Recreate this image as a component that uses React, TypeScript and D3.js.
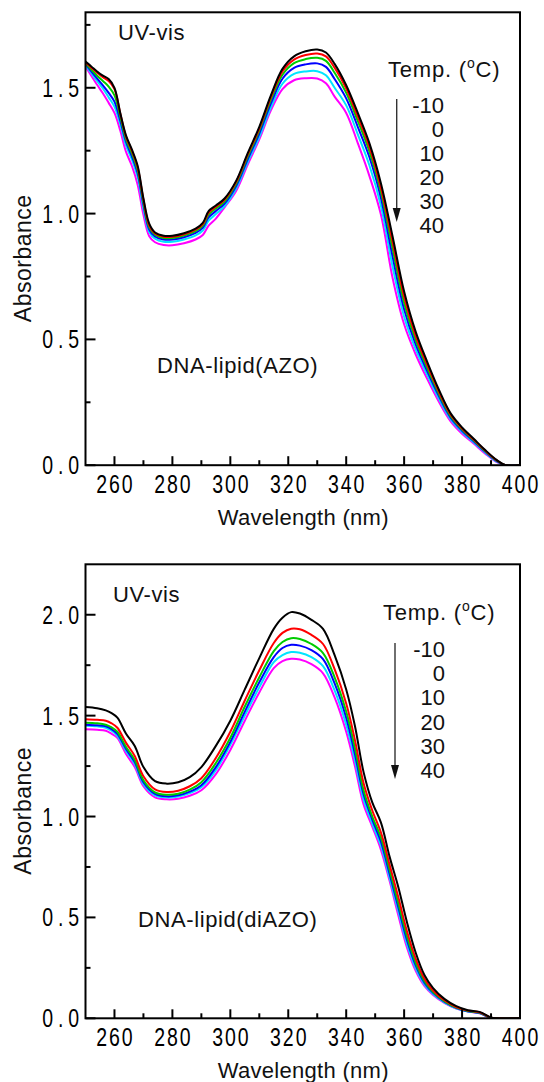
import React, { useMemo } from "react";
import * as d3 from "d3";

// Temperatures (legend order, top to bottom) and their line colours
const temps = ["-10", "0", "10", "20", "30", "40"];
const tempColors = ["#000000", "#ff0000", "#00cc00", "#0000ff", "#00e5ff", "#ff00ff"];

const xMajorTicks = [260, 280, 300, 320, 340, 360, 380, 400];
const xMinorTicks = [270, 290, 310, 330, 350, 370, 390];

// Panel 1: DNA-lipid(AZO)
const azoWavelength = [250, 252, 254, 256, 258, 260, 262, 264, 266, 268, 270, 272, 274, 277, 280, 284, 288, 290.5, 292.5, 295, 298, 302, 306, 310, 314, 318, 322, 326, 330, 333, 336, 340, 344, 348, 352, 356, 360, 364, 368, 372, 376, 380, 384, 388, 392, 395, 400];
const azoM10 = [1.604, 1.585, 1.565, 1.548, 1.535, 1.5, 1.4, 1.31, 1.255, 1.19, 1.06, 0.96, 0.925, 0.912, 0.912, 0.922, 0.94, 0.963, 1.01, 1.032, 1.06, 1.13, 1.24, 1.345, 1.47, 1.575, 1.625, 1.645, 1.652, 1.64, 1.595, 1.51, 1.4, 1.28, 1.12, 0.91, 0.69, 0.53, 0.41, 0.3, 0.207, 0.15, 0.105, 0.06, 0.02, 0, 0];
const azo0 = [1.6, 1.58, 1.56, 1.542, 1.527, 1.495, 1.398, 1.305, 1.25, 1.183, 1.055, 0.952, 0.921, 0.908, 0.908, 0.918, 0.936, 0.958, 1.004, 1.027, 1.055, 1.125, 1.234, 1.338, 1.462, 1.565, 1.612, 1.63, 1.636, 1.625, 1.58, 1.497, 1.385, 1.265, 1.102, 0.888, 0.668, 0.513, 0.398, 0.292, 0.202, 0.146, 0.102, 0.058, 0.019, 0, 0];
const azo10 = [1.597, 1.572, 1.548, 1.527, 1.505, 1.47, 1.385, 1.295, 1.24, 1.172, 1.045, 0.945, 0.916, 0.903, 0.903, 0.913, 0.93, 0.952, 0.996, 1.02, 1.048, 1.118, 1.226, 1.33, 1.452, 1.552, 1.598, 1.614, 1.619, 1.607, 1.56, 1.48, 1.368, 1.247, 1.085, 0.862, 0.645, 0.497, 0.386, 0.284, 0.196, 0.142, 0.099, 0.056, 0.018, 0, 0];
const azo20 = [1.594, 1.565, 1.537, 1.51, 1.48, 1.445, 1.37, 1.285, 1.228, 1.16, 1.035, 0.937, 0.909, 0.897, 0.897, 0.906, 0.923, 0.944, 0.985, 1.01, 1.04, 1.11, 1.216, 1.318, 1.438, 1.536, 1.579, 1.593, 1.597, 1.583, 1.535, 1.458, 1.345, 1.225, 1.062, 0.83, 0.62, 0.48, 0.373, 0.275, 0.19, 0.137, 0.095, 0.053, 0.016, 0, 0];
const azo30 = [1.59, 1.558, 1.527, 1.497, 1.462, 1.425, 1.355, 1.27, 1.215, 1.145, 1.02, 0.927, 0.9, 0.888, 0.888, 0.897, 0.913, 0.933, 0.972, 0.998, 1.03, 1.1, 1.205, 1.305, 1.422, 1.516, 1.555, 1.565, 1.566, 1.55, 1.5, 1.43, 1.315, 1.192, 1.03, 0.79, 0.59, 0.46, 0.358, 0.264, 0.183, 0.132, 0.091, 0.05, 0.014, 0, 0];
const azo40 = [1.585, 1.548, 1.512, 1.478, 1.44, 1.4, 1.33, 1.245, 1.19, 1.115, 0.995, 0.91, 0.886, 0.875, 0.874, 0.882, 0.897, 0.915, 0.952, 0.98, 1.025, 1.09, 1.195, 1.295, 1.41, 1.495, 1.53, 1.538, 1.537, 1.518, 1.465, 1.4, 1.28, 1.15, 0.995, 0.745, 0.56, 0.44, 0.342, 0.252, 0.175, 0.125, 0.086, 0.046, 0.012, 0, 0];
const azoYMajor = [0, 0.5, 1.0, 1.5];
const azoYMinor = [0.25, 0.75, 1.25, 1.75];

// Panel 2: DNA-lipid(diAZO)
const diazoWavelength = [250, 254, 257, 259, 261, 264, 267, 270, 274, 278, 282, 286, 290, 295, 300, 305, 310, 315, 318, 321, 324, 328, 332, 336, 340, 343, 346, 349, 352, 355, 358, 361, 364, 367, 370, 374, 378, 382, 386, 390, 392, 400];
const diazoM10 = [1.543, 1.537, 1.526, 1.512, 1.49, 1.41, 1.35, 1.245, 1.175, 1.163, 1.17, 1.195, 1.245, 1.35, 1.475, 1.63, 1.785, 1.93, 1.985, 2.013, 2.006, 1.975, 1.93, 1.8, 1.63, 1.45, 1.22, 1.07, 0.97, 0.8, 0.65, 0.475, 0.325, 0.215, 0.15, 0.095, 0.06, 0.04, 0.032, 0.004, 0, 0];
const diazo0 = [1.482, 1.479, 1.475, 1.462, 1.44, 1.365, 1.3, 1.2, 1.135, 1.122, 1.128, 1.15, 1.19, 1.29, 1.42, 1.575, 1.725, 1.86, 1.91, 1.931, 1.928, 1.9, 1.855, 1.73, 1.56, 1.38, 1.165, 1.03, 0.92, 0.76, 0.6, 0.43, 0.295, 0.196, 0.138, 0.088, 0.056, 0.038, 0.03, 0.003, 0, 0];
const diazo10 = [1.465, 1.462, 1.455, 1.442, 1.42, 1.345, 1.28, 1.18, 1.12, 1.108, 1.113, 1.133, 1.17, 1.265, 1.39, 1.545, 1.69, 1.82, 1.865, 1.884, 1.88, 1.855, 1.81, 1.69, 1.52, 1.34, 1.13, 1.0, 0.895, 0.735, 0.57, 0.405, 0.275, 0.185, 0.13, 0.084, 0.053, 0.036, 0.028, 0.002, 0, 0];
const diazo20 = [1.455, 1.452, 1.447, 1.433, 1.41, 1.335, 1.27, 1.17, 1.112, 1.1, 1.105, 1.123, 1.155, 1.245, 1.37, 1.52, 1.665, 1.79, 1.835, 1.851, 1.847, 1.825, 1.78, 1.66, 1.49, 1.31, 1.11, 0.985, 0.875, 0.715, 0.55, 0.387, 0.262, 0.177, 0.126, 0.081, 0.052, 0.035, 0.027, 0.002, 0, 0];
const diazo30 = [1.45, 1.447, 1.44, 1.425, 1.4, 1.325, 1.26, 1.16, 1.105, 1.095, 1.099, 1.116, 1.145, 1.23, 1.355, 1.5, 1.64, 1.765, 1.8, 1.815, 1.812, 1.79, 1.745, 1.625, 1.455, 1.28, 1.085, 0.965, 0.855, 0.695, 0.53, 0.367, 0.247, 0.168, 0.12, 0.078, 0.05, 0.034, 0.026, 0.001, 0, 0];
const diazo40 = [1.432, 1.43, 1.425, 1.41, 1.39, 1.31, 1.245, 1.15, 1.095, 1.085, 1.088, 1.103, 1.13, 1.21, 1.33, 1.475, 1.615, 1.735, 1.77, 1.782, 1.778, 1.755, 1.71, 1.59, 1.42, 1.25, 1.06, 0.95, 0.835, 0.68, 0.51, 0.35, 0.235, 0.16, 0.115, 0.075, 0.048, 0.033, 0.025, 0.001, 0, 0];
const diazoYMajor = [0, 0.5, 1.0, 1.5, 2.0];
const diazoYMinor = [0.25, 0.75, 1.25, 1.75];

const FONT = "'Liberation Sans', Arial, Helvetica, sans-serif";
// tick labels in the original are a tall condensed face; squeeze Liberation Sans horizontally
const TICK_SQUEEZE = 0.78;

type Box = { left: number; right: number; top: number; bottom: number };
type Notes = {
  uv: [number, number];
  temp: [number, number];
  legendRight: number;
  legendY0: number;
  legendStep: number;
  arrow: [number, number, number];
  sample: [number, number];
};

const SpectraPanel = ({ id, box, yMax, wavelengths, series, yMajor, yMinor, sampleLabel, notes }: {
  id: string; box: Box; yMax: number; wavelengths: number[]; series: number[][];
  yMajor: number[]; yMinor: number[]; sampleLabel: string; notes: Notes;
}) => {
  const { xScale, yScale, paths } = useMemo(() => {
    const xScale = d3.scaleLinear().domain([250, 400]).range([box.left, box.right]);
    const yScale = d3.scaleLinear().domain([0, yMax]).range([box.bottom, box.top]);
    const line = d3
      .line<number>()
      .x((_, i) => xScale(wavelengths[i]))
      .y((d) => yScale(d))
      .curve(d3.curveCatmullRom.alpha(0.5));
    const paths = series.map((s) => line(s) || "");
    return { xScale, yScale, paths };
  }, [box, yMax, wavelengths, series]);

  const midY = (box.top + box.bottom) / 2 + 19.5;
  const [ax, ay1, ay2] = notes.arrow;

  return (
    <g>
      <defs>
        <clipPath id={`clip-${id}`}>
          <rect x={box.left} y={box.top} width={box.right - box.left} height={box.bottom - box.top} />
        </clipPath>
      </defs>

      {/* Spectra, -10 °C drawn last */}
      <g clipPath={`url(#clip-${id})`}>
        {paths
          .map((d, i) => ({ d, i }))
          .reverse()
          .map(({ d, i }) => (
            <path key={i} d={d} fill="none" stroke={tempColors[i]} strokeWidth={2} strokeLinejoin="round" />
          ))}
      </g>

      {/* Frame */}
      <rect
        x={box.left}
        y={box.top}
        width={box.right - box.left}
        height={box.bottom - box.top}
        fill="none"
        stroke="#000"
        strokeWidth={2}
      />

      {/* Y axis ticks */}
      {yMajor.map((v) => (
        <g key={`ym-${v}`}>
          <line x1={box.left} x2={box.left + 10} y1={yScale(v)} y2={yScale(v)} stroke="#000" strokeWidth={2} />
          <text
            transform={`translate(84, ${yScale(v) + 9}) scale(${TICK_SQUEEZE}, 1)`}
            fontFamily={FONT}
            fontSize={25}
            letterSpacing={6.3}
            textAnchor="end"
            fill="#000"
          >
            {v.toFixed(1)}
          </text>
        </g>
      ))}
      {yMinor.map((v) => (
        <line key={`yn-${v}`} x1={box.left} x2={box.left + 5} y1={yScale(v)} y2={yScale(v)} stroke="#000" strokeWidth={2} />
      ))}

      {/* X axis ticks */}
      {xMajorTicks.map((v) => (
        <g key={`xm-${v}`}>
          <line x1={xScale(v)} x2={xScale(v)} y1={box.bottom} y2={box.bottom - 9} stroke="#000" strokeWidth={2} />
          <text
            transform={`translate(${xScale(v) + 1}, ${box.bottom + 28}) scale(${TICK_SQUEEZE}, 1)`}
            fontFamily={FONT}
            fontSize={25}
            letterSpacing={2.5}
            textAnchor="middle"
            fill="#000"
          >
            {v}
          </text>
        </g>
      ))}
      {xMinorTicks.map((v) => (
        <line key={`xn-${v}`} x1={xScale(v)} x2={xScale(v)} y1={box.bottom} y2={box.bottom - 5} stroke="#000" strokeWidth={2} />
      ))}

      {/* Axis titles */}
      <text
        x={(box.left + box.right) / 2 + 0.5}
        y={box.bottom + 60}
        fontFamily={FONT}
        fontSize={22}
        letterSpacing={0.3}
        textAnchor="middle"
        fill="#111"
      >
        Wavelength (nm)
      </text>
      <text
        transform={`translate(31, ${midY}) rotate(-90)`}
        fontFamily={FONT}
        fontSize={23}
        letterSpacing={0.5}
        textAnchor="middle"
        fill="#111"
      >
        Absorbance
      </text>

      {/* Annotations */}
      <text x={notes.uv[0]} y={notes.uv[1]} fontFamily={FONT} fontSize={22} letterSpacing={0.6} fill="#111">
        UV-vis
      </text>
      <text x={notes.sample[0]} y={notes.sample[1]} fontFamily={FONT} fontSize={22} letterSpacing={0.6} fill="#111">
        {sampleLabel}
      </text>
      <text x={notes.temp[0]} y={notes.temp[1]} fontFamily={FONT} fontSize={22} letterSpacing={0.8} fill="#111">
        Temp. (
        <tspan fontSize={14} dy={-9}>o</tspan>
        <tspan dy={9}>C)</tspan>
      </text>
      {temps.map((t, i) => (
        <text
          key={t}
          x={notes.legendRight}
          y={notes.legendY0 + i * notes.legendStep}
          fontFamily={FONT}
          fontSize={22}
          textAnchor="end"
          fill="#111"
        >
          {t}
        </text>
      ))}
      <line x1={ax} x2={ax} y1={ay1} y2={ay2 - 10} stroke="#333" strokeWidth={1.4} />
      <path d={`M${ax - 4},${ay2 - 14} L${ax + 4},${ay2 - 14} L${ax},${ay2} Z`} fill="#111" />
    </g>
  );
};

const azoBox: Box = { left: 85.5, right: 520, top: 12.3, bottom: 465.2 };
const diazoBox: Box = { left: 85.5, right: 520, top: 564.3, bottom: 1018.3 };

const azoNotes: Notes = {
  uv: [118, 39.5],
  temp: [388, 77],
  legendRight: 444,
  legendY0: 113,
  legendStep: 24,
  arrow: [396.7, 99, 222],
  sample: [157, 373],
};
const diazoNotes: Notes = {
  uv: [113, 602],
  temp: [383, 620],
  legendRight: 445,
  legendY0: 657,
  legendStep: 24.2,
  arrow: [395, 643, 779],
  sample: [138, 927],
};

const App = () => {
  return (
    <svg
      width={544}
      height={1082}
      style={{ position: "absolute", left: 0, top: 0, background: "#fff" }}
    >
      <rect x={0} y={0} width={544} height={1082} fill="#fff" />
      <SpectraPanel
        id="azo"
        box={azoBox}
        yMax={1.8}
        wavelengths={azoWavelength}
        series={[azoM10, azo0, azo10, azo20, azo30, azo40]}
        yMajor={azoYMajor}
        yMinor={azoYMinor}
        sampleLabel="DNA-lipid(AZO)"
        notes={azoNotes}
      />
      <SpectraPanel
        id="diazo"
        box={diazoBox}
        yMax={2.25}
        wavelengths={diazoWavelength}
        series={[diazoM10, diazo0, diazo10, diazo20, diazo30, diazo40]}
        yMajor={diazoYMajor}
        yMinor={diazoYMinor}
        sampleLabel="DNA-lipid(diAZO)"
        notes={diazoNotes}
      />
    </svg>
  );
};

export default App;
